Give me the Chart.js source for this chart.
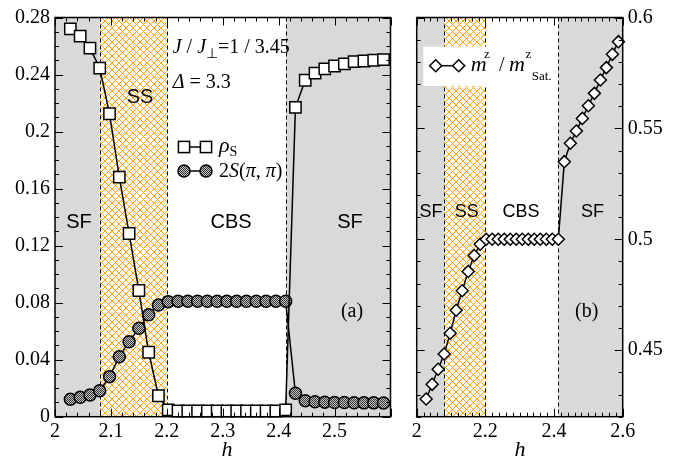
<!DOCTYPE html>
<html><head><meta charset="utf-8">
<script src="https://cdn.jsdelivr.net/npm/chart.js@4.4.1/dist/chart.umd.min.js"></script>
<style>
html,body{margin:0;padding:0;background:#fff;}
#wrap{position:relative;width:678px;height:459px;overflow:hidden;}
canvas{position:absolute;top:0;}
#c1{left:0;} #c2{left:400px;}
</style></head><body>
<div id="wrap"><canvas id="c1" width="400" height="459"></canvas><canvas id="c2" width="278" height="459"></canvas></div>
<script>
// ---------- data ----------
const hValues = [2.0275,2.045,2.0625,2.08,2.0975,2.115,2.1325,2.15,2.1675,2.185,2.2025,2.22,2.2375,2.255,2.2725,2.29,2.3075,2.325,2.3425,2.36,2.3775,2.395,2.4125,2.43,2.4475,2.465,2.4825,2.5,2.5175,2.535,2.5525,2.57,2.5875];
const rhoS = [0.272,0.267,0.2585,0.2445,0.2125,0.168,0.1285,0.0885,0.0452,0.0147,0.0048,0.004,0.004,0.004,0.004,0.004,0.004,0.004,0.004,0.004,0.004,0.004,0.0048,0.217,0.236,0.241,0.244,0.246,0.2475,0.249,0.2495,0.25,0.2505];
const S2pipi = [0.0122,0.0136,0.0152,0.0182,0.0281,0.0421,0.0526,0.062,0.0715,0.0783,0.0807,0.081,0.081,0.081,0.081,0.081,0.081,0.081,0.081,0.081,0.081,0.081,0.081,0.0164,0.0112,0.0105,0.0102,0.0100,0.0100,0.0098,0.0097,0.0097,0.0096];
const mzRatio = [0.428,0.4346,0.4414,0.4483,0.4576,0.468,0.4768,0.4855,0.4927,0.4978,0.5,0.5,0.5,0.5,0.5,0.5,0.5,0.5,0.5,0.5,0.5,0.5,0.5,0.535,0.5433,0.5488,0.5545,0.5602,0.5658,0.5718,0.5774,0.5834,0.5891];
const phaseBounds = [2.0, 2.08, 2.2, 2.413, 2.6];
const phaseNames = ['SF','SS','CBS','SF'];
const phaseKinds = ['gray','hatch','white','gray'];
const leftXTicks = [2,2.1,2.2,2.3,2.4,2.5];
const leftXMajor = [2,2.1,2.2,2.3,2.4,2.5,2.6];
const leftYTicks = [0,0.04,0.08,0.12,0.16,0.2,0.24,0.28];
const rightXTicks = [2,2.2,2.4,2.6];
const rightYTicks = [0.45,0.5,0.55,0.6];

// ---------- styles ----------
const SERIF = '"Liberation Serif","Times New Roman",serif';
const SANS = '"Liberation Sans",Arial,sans-serif';
const GRAY = '#d9d9d9';
function makeHatch(){
  const c=document.createElement('canvas');c.width=7;c.height=7;
  const g=c.getContext('2d');
  g.fillStyle='#fff';g.fillRect(0,0,7,7);
  g.strokeStyle='#ffa500';g.lineWidth=1;
  for(const o of [-7,0,7]){
    g.beginPath();g.moveTo(o-1,-1);g.lineTo(o+8,8);g.stroke();
    g.beginPath();g.moveTo(o+8,-1);g.lineTo(o-1,8);g.stroke();
  }
  return g.createPattern(c,'repeat');
}
function makeDots(){
  const c=document.createElement('canvas');c.width=2;c.height=2;
  const g=c.getContext('2d');
  g.fillStyle='#c4c4c4';g.fillRect(0,0,2,2);
  g.fillStyle='#333';g.fillRect(0,0,1,1);g.fillRect(1,1,1,1);
  return g.createPattern(c,'repeat');
}
const HATCH = makeHatch();
const DOTS = makeDots();
const fmt = v => String(+(+v).toFixed(2));

function pts(ys){ return hValues.map((h,i)=>({x:h,y:ys[i]})); }

function drawRegions(chart){
  const {ctx, chartArea:a, scales:{x}} = chart;
  ctx.save();
  for(let i=0;i<phaseBounds.length-1;i++){
    const x0=x.getPixelForValue(phaseBounds[i]), x1=x.getPixelForValue(phaseBounds[i+1]);
    ctx.fillStyle = phaseKinds[i]==='gray'?GRAY:(phaseKinds[i]==='hatch'?HATCH:'#fff');
    ctx.fillRect(x0,a.top,x1-x0,a.bottom-a.top);
  }
  ctx.strokeStyle='#000';ctx.lineWidth=1;ctx.setLineDash([4,3]);
  for(const b of phaseBounds.slice(1,-1)){
    const px=Math.round(x.getPixelForValue(b))+0.5;
    ctx.beginPath();ctx.moveTo(px,a.top);ctx.lineTo(px,a.bottom);ctx.stroke();
  }
  ctx.restore();
}
function drawFrame(chart, xMajor, xMinor, yMajor, yMinor){
  const {ctx, chartArea:a, scales:{x,y}} = chart;
  ctx.save();ctx.strokeStyle='#000';ctx.lineWidth=1;
  const seg=(x0,y0,x1,y1)=>{ctx.beginPath();ctx.moveTo(x0,y0);ctx.lineTo(x1,y1);ctx.stroke();};
  const isMaj=(arr,v)=>arr.some(m=>Math.abs(m-v)<1e-6);
  let n=Math.round((x.max-x.min)/xMinor);
  for(let i=0;i<=n;i++){
    const v=x.min+i*xMinor, len=isMaj(xMajor,v)?8:4;
    const px=Math.round(x.getPixelForValue(v))+0.5;
    seg(px,a.bottom,px,a.bottom-len);seg(px,a.top,px,a.top+len);
  }
  n=Math.round((y.max-y.min)/yMinor);
  for(let i=0;i<=n;i++){
    const v=y.min+i*yMinor, len=isMaj(yMajor,v)?8:4;
    const py=Math.round(y.getPixelForValue(v))+0.5;
    seg(a.left,py,a.left+len,py);seg(a.right,py,a.right-len,py);
  }
  ctx.lineWidth=1.5;
  ctx.strokeRect(a.left,a.top,a.right-a.left,a.bottom-a.top);
  ctx.restore();
}
function rich(ctx,x,y,parts){
  let cx=x;
  for(const p of parts){
    ctx.font=p.f;
    ctx.fillText(p.t,cx,y+(p.dy||0));
    cx+=ctx.measureText(p.t).width;
  }
}
function label(ctx,t,x,y,f){ctx.font=f;ctx.textAlign='center';ctx.textBaseline='middle';ctx.fillText(t,x,y);}
function square(ctx,x,y){ctx.fillStyle='#fff';ctx.strokeStyle='#000';ctx.lineWidth=1.5;ctx.fillRect(x-5.6,y-5.6,11.2,11.2);ctx.strokeRect(x-5.6,y-5.6,11.2,11.2);}
function circle(ctx,x,y){ctx.fillStyle=DOTS;ctx.strokeStyle='#000';ctx.lineWidth=1.5;ctx.beginPath();ctx.arc(x,y,6,0,Math.PI*2);ctx.fill();ctx.stroke();}
function diamond(ctx,x,y){ctx.fillStyle='#fff';ctx.strokeStyle='#000';ctx.lineWidth=1.5;ctx.beginPath();ctx.moveTo(x,y-6);ctx.lineTo(x+6,y);ctx.lineTo(x,y+6);ctx.lineTo(x-6,y);ctx.closePath();ctx.fill();ctx.stroke();}
function hline(ctx,x0,x1,y){ctx.strokeStyle='#000';ctx.lineWidth=1.5;ctx.beginPath();ctx.moveTo(x0,y);ctx.lineTo(x1,y);ctx.stroke();}

const commonTick = {font:{family:SERIF,size:20},color:'#000',maxRotation:0,autoSkip:false,callback:v=>fmt(v)};

// ---------- left panel ----------
new Chart(document.getElementById('c1'),{
  type:'line',
  data:{datasets:[
    {label:'ρS',data:pts(rhoS),borderColor:'#000',borderWidth:1.5,pointStyle:'rect',pointRadius:8,pointBackgroundColor:'#fff',pointBorderColor:'#000',pointBorderWidth:1.5,tension:0,clip:false},
    {label:'2S(π, π)',data:pts(S2pipi),borderColor:'#000',borderWidth:1.5,pointStyle:'circle',pointRadius:6,pointBackgroundColor:DOTS,pointBorderColor:'#000',pointBorderWidth:1.5,tension:0,clip:false}
  ]},
  options:{
    responsive:false,animation:false,devicePixelRatio:1,events:[],
    layout:{padding:{top:17.5,right:4,left:0,bottom:0}},
    plugins:{legend:{display:false},tooltip:{enabled:false}},
    scales:{
      x:{type:'linear',min:2,max:2.6,position:'bottom',grid:{display:false,drawTicks:false},border:{display:false},
         afterBuildTicks:s=>{s.ticks=leftXTicks.map(v=>({value:v}));},
         afterFit:s=>{s.height=42.3;},
         ticks:Object.assign({padding:3},commonTick)},
      y:{type:'linear',min:0,max:0.28,position:'left',grid:{display:false,drawTicks:false},border:{display:false},
         afterBuildTicks:s=>{s.ticks=leftYTicks.map(v=>({value:v}));},
         afterFit:s=>{s.width=55;},
         ticks:Object.assign({padding:5},commonTick)}
    }
  },
  plugins:[{id:'decorL',
    beforeDatasetsDraw(chart){drawRegions(chart);},
    afterDatasetsDraw(chart){
      const ctx=chart.ctx;
      drawFrame(chart,leftXMajor,0.02,leftYTicks,0.01);
      ctx.save();ctx.fillStyle='#000';
      label(ctx,phaseNames[0],79,222,'20px '+SANS);
      label(ctx,phaseNames[1],140,97,'20px '+SANS);
      label(ctx,phaseNames[2],231,222,'20px '+SANS);
      label(ctx,phaseNames[3],350,222,'20px '+SANS);
      label(ctx,'(a)',352,312,'20px '+SERIF);
      label(ctx,'h',227,450,'italic 22px '+SERIF);
      ctx.textAlign='left';ctx.textBaseline='alphabetic';
      rich(ctx,172.7,53,[
        {t:'J',f:'italic 20px '+SERIF},{t:' / ',f:'20px '+SERIF},{t:'J',f:'italic 20px '+SERIF},
        {t:'⊥',f:'14px '+SERIF,dy:5},{t:'=1 / 3.45',f:'20px '+SERIF}]);
      rich(ctx,172.7,88,[{t:'Δ',f:'italic 20px '+SERIF},{t:' = 3.3',f:'20px '+SERIF}]);
      hline(ctx,184,206,147);square(ctx,184,147);square(ctx,206,147);
      hline(ctx,184,206,171);circle(ctx,184,171);circle(ctx,206,171);
      ctx.fillStyle='#000';
      rich(ctx,219,152,[{t:'ρ',f:'italic 22px '+SERIF},{t:'S',f:'14px '+SERIF,dy:4}]);
      rich(ctx,219,177,[{t:'2',f:'20px '+SERIF},{t:'S',f:'italic 20px '+SERIF},{t:'(',f:'20px '+SERIF},{t:'π',f:'italic 20px '+SERIF},{t:', ',f:'20px '+SERIF},{t:'π',f:'italic 20px '+SERIF},{t:')',f:'20px '+SERIF}]);
      ctx.restore();
    }}]
});

// ---------- right panel ----------
new Chart(document.getElementById('c2'),{
  type:'line',
  data:{datasets:[
    {label:'mz / mz Sat.',data:pts(mzRatio),borderColor:'#000',borderWidth:1.5,pointStyle:'rectRot',pointRadius:6,pointBackgroundColor:'#fff',pointBorderColor:'#000',pointBorderWidth:1.5,tension:0,clip:false}
  ]},
  options:{
    responsive:false,animation:false,devicePixelRatio:1,events:[],
    layout:{padding:{top:17.5,right:0,left:16.7,bottom:0}},
    plugins:{legend:{display:false},tooltip:{enabled:false}},
    scales:{
      x:{type:'linear',min:2,max:2.6,position:'bottom',grid:{display:false,drawTicks:false},border:{display:false},
         afterBuildTicks:s=>{s.ticks=rightXTicks.map(v=>({value:v}));},
         afterFit:s=>{s.height=42.3;},
         ticks:Object.assign({padding:3},commonTick)},
      y:{type:'linear',min:0.42,max:0.6,position:'right',grid:{display:false,drawTicks:false},border:{display:false},
         afterBuildTicks:s=>{s.ticks=rightYTicks.map(v=>({value:v}));},
         afterFit:s=>{s.width=55.3;},
         ticks:Object.assign({padding:5},commonTick)}
    }
  },
  plugins:[{id:'decorR',
    beforeDatasetsDraw(chart){drawRegions(chart);},
    afterDatasetsDraw(chart){
      const ctx=chart.ctx;
      drawFrame(chart,rightXTicks,0.02,rightYTicks,0.01);
      ctx.save();
      ctx.fillStyle='#fff';ctx.fillRect(23.3,46.7,133.4,39.3);
      hline(ctx,35.7,58.7,65.7);diamond(ctx,35.7,65.7);diamond(ctx,58.7,65.7);
      ctx.fillStyle='#000';ctx.textAlign='left';ctx.textBaseline='alphabetic';
      rich(ctx,70.7,71,[{t:'m',f:'italic 22px '+SERIF}]);
      rich(ctx,84,58,[{t:'z',f:'13px '+SERIF}]);
      rich(ctx,99,71,[{t:'/',f:'20px '+SERIF}]);
      rich(ctx,109,71,[{t:'m',f:'italic 22px '+SERIF}]);
      rich(ctx,125.5,58,[{t:'z',f:'13px '+SERIF}]);
      rich(ctx,131.7,80,[{t:'Sat.',f:'13px '+SERIF}]);
      ctx.fillStyle='#000';
      label(ctx,phaseNames[0],31,212,'18px '+SANS);
      label(ctx,phaseNames[1],66.7,212,'18px '+SANS);
      label(ctx,phaseNames[2],121,212,'18px '+SANS);
      label(ctx,phaseNames[3],192.5,212,'18px '+SANS);
      label(ctx,'(b)',186.7,312,'20px '+SERIF);
      label(ctx,'h',120,450,'italic 22px '+SERIF);
      ctx.restore();
    }}]
});
</script>
</body></html>
